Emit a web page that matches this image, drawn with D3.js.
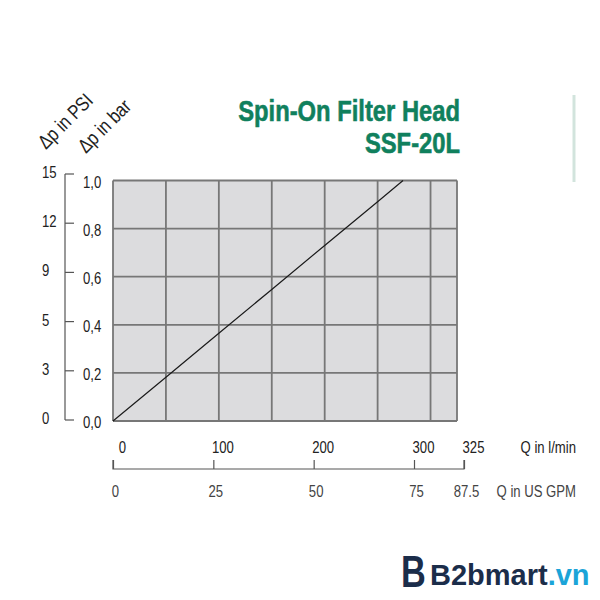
<!DOCTYPE html>
<html>
<head>
<meta charset="utf-8">
<script src="https://cdn.jsdelivr.net/npm/d3@7"></script>
<style>
  html, body { margin: 0; padding: 0; background: #ffffff; }
  svg { display: block; }
  text { font-family: "Liberation Sans", Arial, sans-serif; }
</style>
</head>
<body>
<svg id="chart" width="600" height="600"></svg>
<script>
// ---- data ----
const titleLines = ["Spin-On Filter Head", "SSF-20L"];
const gridFlow = [0, 50, 100, 150, 200, 250, 300, 325];   // l/min grid lines
const barTicks = [0, 0.2, 0.4, 0.6, 0.8, 1.0];
const barLabels = ["0,0", "0,2", "0,4", "0,6", "0,8", "1,0"];
const psiLabels = ["0", "3", "5", "9", "12", "15"];
const lpmTicks = [0, 100, 200, 300, 325];
const gpmLabels = ["0", "25", "50", "75", "87.5"];
const curveFlow = [0, 50, 100, 150, 200, 250, 274];
const curveBar = [0, 0.182, 0.365, 0.547, 0.73, 0.912, 1.0];

const svg = d3.select("#chart");
const green = "#10805d";
const gridCol = "#777777";
const NARROW = 0.82;  // emulate a condensed face
const place = (x, y, rot) => `translate(${x},${y})` + (rot ? ` rotate(${rot})` : "") + ` scale(${NARROW},1)`;

// scales
const x = d3.scaleLinear().domain([0, 325]).range([113, 457]);
const y = d3.scaleLinear().domain([0, 1]).range([421, 180.5]);
const psi = d3.scalePoint().domain(psiLabels).range([420, 174]);
const qAxis = d3.scaleLinear().domain([0, 300, 325]).range([113, 414, 464]);

// title
svg.append("g").selectAll("text").data(titleLines).join("text")
  .attr("transform", (d, i) => place(460, 121 + i * 32))
  .attr("text-anchor", "end")
  .attr("font-size", 29).attr("font-weight", "bold")
  .attr("fill", green).attr("stroke", green).attr("stroke-width", 0.6)
  .text(d => d);

// decorative vertical line
svg.append("line").attr("x1", 574).attr("x2", 574).attr("y1", 95).attr("y2", 182)
  .attr("stroke", "#d2e4dd").attr("stroke-width", 3);

// axis titles
svg.append("text").attr("transform", place(46, 150, -45))
  .attr("font-size", 20).attr("fill", "#222").text("Δp in PSI");
svg.append("text").attr("transform", place(86, 154, -45))
  .attr("font-size", 20).attr("fill", "#222").text("Δp in bar");

// plot background
svg.append("rect").attr("x", x(0)).attr("y", y(1))
  .attr("width", x(325) - x(0)).attr("height", y(0) - y(1))
  .attr("fill", "#dcdcde");

// grid
const grid = svg.append("g").attr("stroke", gridCol).attr("stroke-width", 1.8);
grid.selectAll(".v").data(gridFlow).join("line")
  .attr("x1", d => x(d)).attr("x2", d => x(d))
  .attr("y1", y(0)).attr("y2", y(1));
grid.selectAll(".h").data(barTicks).join("line")
  .attr("x1", x(0)).attr("x2", x(325))
  .attr("y1", d => y(d)).attr("y2", d => y(d));

// curve
const pts = curveFlow.map((f, i) => [f, curveBar[i]]);
svg.append("path").datum(pts)
  .attr("fill", "none").attr("stroke", "#1a1a1a").attr("stroke-width", 1.2)
  .attr("d", d3.line().x(d => x(d[0])).y(d => y(d[1])));

// bar labels
svg.append("g").selectAll("text").data(barTicks).join("text")
  .attr("transform", d => place(83, y(d) + 7))
  .attr("font-size", 16).attr("fill", "#222")
  .text((d, i) => barLabels[i]);

// PSI bracket axis
const psiG = svg.append("g").attr("stroke", "#555").attr("stroke-width", 1.2);
psiG.append("line").attr("x1", 65).attr("x2", 65)
  .attr("y1", psi("15")).attr("y2", psi("0"));
psiG.selectAll(".t").data(psiLabels).join("line")
  .attr("x1", 65).attr("x2", 74)
  .attr("y1", d => psi(d)).attr("y2", d => psi(d));
svg.append("g").selectAll("text").data(psiLabels).join("text")
  .attr("transform", d => place(42, psi(d) + 4))
  .attr("font-size", 16).attr("fill", "#222").text(d => d);

// bottom flow axis (l/min)
const axTop = svg.append("g").attr("transform", "translate(0,469)")
  .call(d3.axisTop(qAxis).tickValues(lpmTicks).tickSize(9).tickPadding(7).tickFormat(d3.format("d")));
axTop.select(".domain").attr("stroke", "#555").attr("stroke-width", 1.2).attr("d", `M${qAxis(0)},-9V0H${qAxis(325)}V-9`);
axTop.selectAll(".tick line").attr("stroke", "#555").attr("stroke-width", 1.2);
axTop.selectAll(".tick text").attr("font-size", 16).attr("fill", "#222")
  .attr("font-family", null)
  .attr("transform", `translate(9,0) scale(${NARROW},1)`);

// US GPM labels
const axBot = svg.append("g").attr("transform", "translate(0,469)")
  .call(d3.axisBottom(qAxis).tickValues(lpmTicks).tickSize(0).tickPadding(17)
    .tickFormat((d, i) => gpmLabels[i]));
axBot.select(".domain").remove();
axBot.selectAll(".tick text").attr("font-size", 16).attr("fill", "#444")
  .attr("font-family", null)
  .attr("transform", `translate(2,0) scale(${NARROW},1)`);

// unit labels
svg.append("text").attr("transform", place(576, 453)).attr("text-anchor", "end")
  .attr("font-size", 16).attr("fill", "#222").text("Q in l/min");
svg.append("text").attr("transform", place(576, 496.5)).attr("text-anchor", "end")
  .attr("font-size", 16).attr("fill", "#444").text("Q in US GPM");

// watermark logo
svg.append("text").attr("transform", "translate(401,587) scale(0.78,1)")
  .attr("font-size", 44).attr("font-weight", "bold").attr("fill", "#1b2d4a").text("B");
const logo = svg.append("text").attr("x", 430).attr("y", 585)
  .attr("font-size", 29).attr("font-weight", "bold");
logo.append("tspan").attr("fill", "#1b2d4a").text("B2bmart");
logo.append("tspan").attr("fill", "#1ba4d8").text(".vn");
</script>
</body>
</html>
